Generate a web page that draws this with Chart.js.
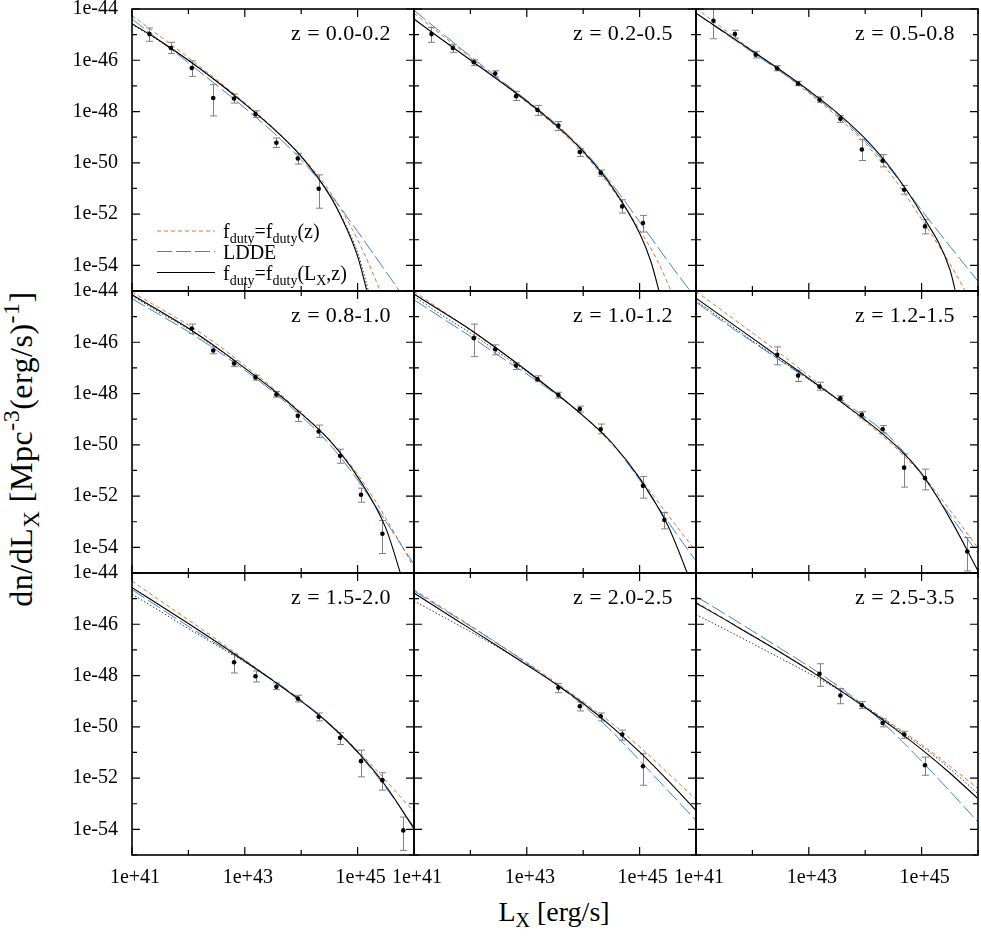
<!DOCTYPE html>
<html>
<head>
<meta charset="utf-8">
<script src="https://cdn.jsdelivr.net/npm/chart.js@4.4.0/dist/chart.umd.min.js"></script>
<style>
  html, body { margin: 0; padding: 0; background: #ffffff; }
  #wrap { position: relative; width: 981px; height: 938px; overflow: hidden; background: #ffffff;
          font-family: "Liberation Serif", "Times New Roman", serif; color: #000; }
  #wrap canvas { position: absolute; }
  .ytitle { position: absolute; left: 21px; top: 449px; transform: translate(-50%, -50%) rotate(-90deg);
            font-size: 32px; letter-spacing: 0.5px; white-space: nowrap; line-height: 1; }
  .xtitle { position: absolute; left: 554px; top: 898px; transform: translateX(-50%);
            font-size: 28px; white-space: nowrap; line-height: 1; }
  .ytitle sub, .xtitle sub { font-size: 0.72em; vertical-align: -0.3em; line-height: 0; }
  .ytitle sup { font-size: 0.75em; vertical-align: 0.55em; line-height: 0; }
</style>
</head>
<body>
<div id="wrap">
  <div class="ytitle">dn/dL<sub>X</sub> [Mpc<sup>-3</sup>(erg/s)<sup>-1</sup>]</div>
  <div class="xtitle">L<sub>X</sub> [erg/s]</div>
</div>
<script>
// ---------------- DATA (log10 values) ----------------
const zBins = ['z = 0.0-0.2', 'z = 0.2-0.5', 'z = 0.5-0.8',
               'z = 0.8-1.0', 'z = 1.0-1.2', 'z = 1.2-1.5',
               'z = 1.5-2.0', 'z = 2.0-2.5', 'z = 2.5-3.5'];
const xTickExp = [41, 42, 43, 44, 45, 46];
const yTickExp = [-55, -54, -53, -52, -51, -50, -49, -48, -47, -46, -45, -44];

// measured points: log10 Lx
const ptLogL = [
  [41.31, 41.69, 42.06, 42.44, 42.81, 43.19, 43.56, 43.94, 44.31],
  [41.31, 41.69, 42.06, 42.44, 42.81, 43.19, 43.56, 43.94, 44.31, 44.69, 45.06],
  [41.31, 41.69, 42.06, 42.44, 42.81, 43.19, 43.56, 43.94, 44.31, 44.69, 45.06],
  [42.06, 42.44, 42.81, 43.19, 43.56, 43.94, 44.31, 44.69, 45.06, 45.44],
  [42.06, 42.44, 42.81, 43.19, 43.56, 43.94, 44.31, 45.06, 45.44],
  [42.44, 42.81, 43.19, 43.56, 43.94, 44.31, 44.69, 45.06, 45.81],
  [42.81, 43.19, 43.56, 43.94, 44.31, 44.69, 45.06, 45.44, 45.81],
  [43.56, 43.94, 44.31, 44.69, 45.06],
  [43.19, 43.56, 43.94, 44.31, 44.69, 45.06]
];
// measured points: log10 dn/dLx
const ptLogPhi = [
  [-44.98, -45.52, -46.30, -47.47, -47.49, -48.10, -49.22, -49.83, -51.01],
  [-44.98, -45.52, -46.08, -46.52, -47.40, -47.94, -48.55, -49.58, -50.39, -51.70, -52.35],
  [-44.46, -44.98, -45.78, -46.32, -46.91, -47.54, -48.28, -49.48, -49.92, -51.05, -52.48],
  [-45.46, -46.32, -46.83, -47.37, -48.04, -48.87, -49.48, -50.43, -51.95, -53.47],
  [-45.84, -46.27, -46.91, -47.44, -48.06, -48.60, -49.39, -51.60, -52.93],
  [-46.49, -47.30, -47.73, -48.19, -48.83, -49.39, -50.89, -51.30, -54.16],
  [-47.48, -48.03, -48.44, -48.90, -49.61, -50.43, -51.34, -52.08, -54.04],
  [-48.47, -49.20, -49.59, -50.30, -51.54],
  [-47.93, -48.78, -49.16, -49.85, -50.30, -51.50]
];
// error bar lower ends (log10)
const ptErrLo = [
  [-45.26, -45.74, -46.63, -48.17, -47.67, -48.23, -49.40, -50.05, -51.77],
  [-45.30, -45.69, -46.21, -46.65, -47.57, -48.15, -48.74, -49.75, -50.52, -51.96, -52.70],
  [-45.16, -45.13, -45.91, -46.41, -46.99, -47.64, -48.42, -49.91, -50.16, -51.22, -52.77],
  [-45.66, -46.45, -46.95, -47.48, -48.14, -49.09, -49.71, -50.72, -52.24, -54.24],
  [-46.56, -46.49, -47.06, -47.54, -48.18, -48.72, -49.57, -52.08, -53.28],
  [-46.88, -47.53, -47.87, -48.27, -48.95, -49.54, -51.65, -51.76, -54.92],
  [-47.90, -48.25, -48.55, -49.03, -49.77, -50.69, -51.95, -52.47, -54.82],
  [-48.67, -49.38, -49.77, -50.52, -52.28],
  [-48.42, -49.10, -49.29, -50.00, -50.45, -51.89]
];
// error bar upper ends (log10)
const ptErrHi = [
  [-44.74, -45.30, -46.02, -46.95, -47.32, -47.97, -49.03, -49.63, -50.47],
  [-44.72, -45.39, -45.98, -46.41, -47.21, -47.76, -48.39, -49.45, -50.28, -51.44, -52.05],
  [-43.90, -44.83, -45.65, -46.21, -46.82, -47.43, -48.16, -49.10, -49.68, -50.88, -52.22],
  [-45.29, -46.18, -46.72, -47.28, -47.92, -48.70, -49.23, -50.17, -51.69, -52.95],
  [-45.29, -46.10, -46.80, -47.31, -47.95, -48.49, -49.19, -51.24, -52.64],
  [-46.18, -47.09, -47.56, -48.09, -48.71, -49.25, -50.35, -50.95, -53.62],
  [-47.17, -47.82, -48.29, -48.77, -49.46, -50.23, -50.91, -51.79, -53.52],
  [-48.31, -49.03, -49.46, -50.13, -51.05],
  [-47.54, -48.51, -49.02, -49.69, -50.17, -51.18]
];

// model curves: [log10 Lx, log10 dn/dLx]
// f_duty = f_duty(Lx, z)  (black solid)
const curveFdutyLz = [
  [[41,-44.57],[41.5,-45.25],[42,-46.00],[42.5,-46.82],[43,-47.70],[43.5,-48.65],[44,-49.75],[44.5,-51.25],[44.75,-52.30],[45,-53.65],[45.2,-55.3]],
  [[41,-44.39],[41.5,-45.20],[42,-45.99],[42.5,-46.78],[43,-47.60],[43.5,-48.50],[44,-49.55],[44.5,-50.90],[45,-52.75],[45.2,-53.85],[45.38,-55.3]],
  [[41,-44.16],[41.5,-44.90],[42,-45.64],[42.5,-46.39],[43,-47.18],[43.5,-48.04],[44,-49.06],[44.5,-50.35],[45,-52.0],[45.5,-54.15],[45.63,-55.3]],
  [[41,-44.15],[41.5,-44.79],[42,-45.45],[42.5,-46.20],[43,-47.01],[43.5,-47.85],[44,-48.78],[44.5,-49.82],[45,-51.25],[45.5,-53.25],[45.8,-55.3]],
  [[41,-44.12],[41.5,-44.81],[42,-45.51],[42.5,-46.29],[43,-47.11],[43.5,-47.96],[44,-48.87],[44.5,-49.90],[45,-51.30],[45.5,-53.15],[45.9,-55.3]],
  [[41,-44.28],[41.5,-45.06],[42,-45.84],[42.5,-46.63],[43,-47.41],[43.5,-48.21],[44,-49.03],[44.5,-49.94],[45,-51.12],[45.5,-52.86],[46,-54.92]],
  [[41,-44.57],[41.5,-45.27],[42,-45.97],[42.5,-46.69],[43,-47.43],[43.5,-48.20],[44,-49.0],[44.5,-49.90],[45,-50.98],[45.5,-52.31],[46,-53.97]],
  [[41,-44.78],[41.5,-45.48],[42,-46.18],[42.5,-46.88],[43,-47.59],[43.5,-48.31],[44,-49.09],[44.5,-49.98],[45,-50.98],[45.5,-52.09],[46,-53.26]],
  [[41,-45.17],[41.5,-45.80],[42,-46.45],[42.5,-47.10],[43,-47.78],[43.5,-48.50],[44,-49.25],[44.5,-50.03],[45,-50.88],[45.5,-51.80],[46,-52.80]]
];
// dotted companion curve (black dotted)
const curveDotted = [
  [[41,-44.6],[41.5,-45.27],[42,-46.01],[42.5,-46.83],[43,-47.71],[43.5,-48.66],[44,-49.76],[44.5,-51.24],[44.75,-52.25],[45,-53.5],[45.23,-55.3]],
  [],
  [],
  [[41,-44.19],[41.5,-44.85],[42,-45.49],[42.5,-46.23],[43,-47.01]],
  [[41,-44.21],[41.5,-44.95],[42,-45.64],[42.5,-46.40],[43,-47.15],[43.5,-47.96]],
  [[41,-44.38],[41.5,-45.16],[42,-45.94],[42.5,-46.70],[43,-47.45],[43.5,-48.21]],
  [[41,-44.83],[41.5,-45.49],[42,-46.17],[42.5,-46.82],[43,-47.47],[43.5,-48.20]],
  [[41,-45.09],[41.5,-45.69],[42,-46.29],[42.5,-46.91],[43,-47.57],[43.5,-48.31]],
  [[41,-45.62],[41.5,-46.18],[42,-46.75],[42.5,-47.33],[43,-47.91],[43.5,-48.52],[44,-49.22],[44.5,-49.98],[45,-50.76],[45.5,-51.63],[46,-52.61]]
];
// LDDE (blue long dash)
const curveLDDE = [
  [[41,-44.39],[41.5,-45.24],[42,-46.10],[42.5,-46.97],[43,-47.86],[43.5,-48.81],[44,-49.88],[44.5,-51.18],[45,-52.68],[45.5,-54.24],[45.9,-55.5]],
  [[41,-44.05],[41.5,-44.95],[42,-45.84],[42.5,-46.71],[43,-47.56],[43.5,-48.45],[44,-49.50],[44.5,-50.80],[45,-52.30],[45.5,-53.83],[46,-55.3]],
  [[41,-44.16],[41.5,-44.93],[42,-45.69],[42.5,-46.45],[43,-47.23],[43.5,-48.11],[44,-49.15],[44.5,-50.40],[45,-51.85],[45.5,-53.25],[46,-54.62]],
  [[41,-44.30],[41.5,-44.94],[42,-45.59],[42.5,-46.31],[43,-47.09],[43.5,-47.93],[44,-48.88],[44.5,-49.97],[45,-51.37],[45.5,-52.99],[46,-54.66]],
  [[41,-44.34],[41.5,-45.06],[42,-45.77],[42.5,-46.52],[43,-47.24],[43.5,-48.0],[44,-48.86],[44.5,-49.92],[45,-51.37],[45.5,-52.99],[46,-54.53]],
  [[41,-44.43],[41.5,-45.23],[42,-45.98],[42.5,-46.72],[43,-47.45],[43.5,-48.18],[44,-48.92],[44.5,-49.83],[45,-51.17],[45.5,-52.73],[46,-54.23]],
  [[41,-44.65],[41.5,-45.37],[42,-46.08],[42.5,-46.77],[43,-47.46],[43.5,-48.17],[44,-48.96],[44.5,-49.87],[45,-51.01],[45.5,-52.37],[46,-53.91]],
  [[41,-44.70],[41.5,-45.39],[42,-46.08],[42.5,-46.78],[43,-47.52],[43.5,-48.31],[44,-49.16],[44.5,-50.16],[45,-51.31],[45.5,-52.48],[46,-53.65]],
  [[41,-44.91],[41.5,-45.58],[42,-46.26],[42.5,-46.95],[43,-47.64],[43.5,-48.38],[44,-49.22],[44.5,-50.23],[45,-51.34],[45.5,-52.51],[46,-53.71]]
];
// f_duty = f_duty(z) (orange short dash)
const curveFdutyZ = [
  [[41,-44.26],[41.5,-45.07],[42,-45.90],[42.5,-46.76],[43,-47.66],[43.5,-48.63],[44,-49.73],[44.5,-51.10],[45,-53.0],[45.4,-55.0],[45.5,-55.6]],
  [[41,-44.16],[41.5,-45.03],[42,-45.90],[42.5,-46.77],[43,-47.64],[43.5,-48.56],[44,-49.62],[44.5,-50.98],[45,-52.62],[45.3,-53.75],[45.6,-55.2],[45.7,-55.7]],
  [[41,-43.97],[41.5,-44.80],[42,-45.62],[42.5,-46.44],[43,-47.28],[43.5,-48.19],[44,-49.24],[44.5,-50.58],[45,-52.20],[45.5,-53.93],[45.9,-55.5]],
  [[41,-44.04],[41.5,-44.68],[42,-45.33],[42.5,-46.07],[43,-46.91],[43.5,-47.79],[44,-48.75],[44.5,-49.81],[45,-51.15],[45.5,-52.86],[46,-54.79]],
  [[41,-44.02],[41.5,-44.77],[42,-45.53],[42.5,-46.31],[43,-47.11],[43.5,-47.97],[44,-48.88],[44.5,-49.95],[45,-51.28],[45.5,-52.73],[46,-54.16]],
  [[41,-44.02],[41.5,-44.82],[42,-45.63],[42.5,-46.45],[43,-47.31],[43.5,-48.21],[44,-49.09],[44.5,-50.03],[45,-51.15],[45.5,-52.54],[46,-54.03]],
  [[41,-44.31],[41.5,-45.08],[42,-45.83],[42.5,-46.60],[43,-47.38],[43.5,-48.18],[44,-49.0],[44.5,-49.87],[45,-50.92],[45.5,-52.09],[46,-53.32]],
  [[41,-44.65],[41.5,-45.35],[42,-46.05],[42.5,-46.77],[43,-47.49],[43.5,-48.25],[44,-49.03],[44.5,-49.85],[45,-50.78],[45.5,-51.80],[46,-52.83]],
  [[41,-45.13],[41.5,-45.78],[42,-46.43],[42.5,-47.09],[43,-47.77],[43.5,-48.47],[44,-49.20],[44.5,-49.93],[45,-50.69],[45.5,-51.53],[46,-52.41]]
];

// ---------------- STYLE / LAYOUT ----------------
const COL_X = [132, 414, 696];
const ROW_Y = [9, 291, 573];
const PW = 282, PH = 282;
const ORANGE = '#d2743a';
const BLUE = '#3a86d8';
const FONT = '"Liberation Serif", "Times New Roman", serif';

const toXY = arr => arr.map(([l, v]) => ({ x: Math.pow(10, l), y: Math.pow(10, v) }));

function drawRich(ctx, x, y, parts, size) {
  let cx = x;
  parts.forEach(([t, sub]) => {
    const fs = sub ? size * 0.7 : size;
    ctx.font = fs + 'px ' + FONT;
    ctx.fillText(t, cx, y + (sub ? size * 0.25 : 0));
    cx += ctx.measureText(t).width;
  });
}

function panelPlugin(p, r, c) {
  return {
    id: 'panel' + p,
    beforeDatasetsDraw(chart) {
      const { ctx, chartArea: a, scales: { x, y } } = chart;
      ctx.save();
      ctx.beginPath();
      ctx.rect(a.left, a.top, a.right - a.left, a.bottom - a.top);
      ctx.clip();
      ctx.strokeStyle = '#808080';
      ctx.lineWidth = 1;
      ptLogL[p].forEach((l, i) => {
        const px = Math.round(x.getPixelForValue(Math.pow(10, l))) + 0.5;
        const y1 = y.getPixelForValue(Math.pow(10, ptErrHi[p][i]));
        const y2 = y.getPixelForValue(Math.pow(10, ptErrLo[p][i]));
        ctx.beginPath();
        ctx.moveTo(px, y1); ctx.lineTo(px, y2);
        ctx.moveTo(px - 3.5, y1); ctx.lineTo(px + 3.5, y1);
        ctx.moveTo(px - 3.5, y2); ctx.lineTo(px + 3.5, y2);
        ctx.stroke();
      });
      ctx.restore();
    },
    afterDraw(chart) {
      const { ctx, chartArea: a, scales: { x, y } } = chart;
      ctx.save();
      // inward ticks on all four sides
      ctx.strokeStyle = '#000';
      ctx.lineWidth = 1.2;
      xTickExp.forEach(e => {
        const px = x.getPixelForValue(Math.pow(10, e));
        const len = (e % 2 !== 0) ? 8 : 5;
        ctx.beginPath();
        ctx.moveTo(px, a.bottom); ctx.lineTo(px, a.bottom - len);
        ctx.moveTo(px, a.top); ctx.lineTo(px, a.top + len);
        ctx.stroke();
      });
      yTickExp.forEach(e => {
        const py = y.getPixelForValue(Math.pow(10, e));
        const len = (e % 2 === 0) ? 8 : 5;
        ctx.beginPath();
        ctx.moveTo(a.left, py); ctx.lineTo(a.left + len, py);
        ctx.moveTo(a.right, py); ctx.lineTo(a.right - len, py);
        ctx.stroke();
      });
      // frame
      ctx.lineWidth = 1.6;
      ctx.strokeRect(a.left, a.top, a.right - a.left, a.bottom - a.top);
      // redshift label
      ctx.fillStyle = '#000';
      ctx.font = '22px ' + FONT;
      if ('letterSpacing' in ctx) ctx.letterSpacing = '0.4px';
      ctx.textAlign = 'right';
      ctx.textBaseline = 'alphabetic';
      ctx.fillText(zBins[p], a.right - 23, a.top + 31);
      if ('letterSpacing' in ctx) ctx.letterSpacing = '0px';
      // legend in first panel
      if (p === 0) {
        ctx.textAlign = 'left';
        const rows = [
          { dy: 222, color: ORANGE, dash: [4, 3], parts: [['f', 0], ['duty', 1], ['=f', 0], ['duty', 1], ['(z)', 0]] },
          { dy: 242.5, color: BLUE, dash: [15, 4], parts: [['LDDE', 0]] },
          { dy: 263.5, color: '#000', dash: [], parts: [['f', 0], ['duty', 1], ['=f', 0], ['duty', 1], ['(L', 0], ['X', 1], [',z)', 0]] }
        ];
        rows.forEach(rw => {
          const yy = a.top + rw.dy;
          ctx.strokeStyle = rw.color;
          ctx.lineWidth = 1;
          ctx.setLineDash(rw.dash);
          ctx.beginPath();
          ctx.moveTo(a.left + 25, yy); ctx.lineTo(a.left + 83, yy);
          ctx.stroke();
          ctx.setLineDash([]);
          ctx.fillStyle = '#000';
          drawRich(ctx, a.left + 91, yy + 7, rw.parts, 20);
        });
      }
      ctx.restore();
    }
  };
}

const wrap = document.getElementById('wrap');
for (let p = 0; p < 9; p++) {
  const r = Math.floor(p / 3), c = p % 3;
  const L = c === 0 ? 132 : 40;
  const R = 20, T = 14;
  const B = r === 2 ? 50 : 14;
  const cv = document.createElement('canvas');
  const w = L + PW + R, h = T + PH + B;
  cv.width = w; cv.height = h;
  cv.style.width = w + 'px'; cv.style.height = h + 'px';
  cv.style.left = (COL_X[c] - L) + 'px';
  cv.style.top = (ROW_Y[r] - T) + 'px';
  wrap.appendChild(cv);

  const datasets = [
    { label: 'data', data: toXY(ptLogL[p].map((l, i) => [l, ptLogPhi[p][i]])), showLine: false,
      pointRadius: 2.3, pointBackgroundColor: '#000', pointBorderWidth: 0, pointStyle: 'circle' },
    { label: 'fduty(Lx,z)', data: toXY(curveFdutyLz[p]), showLine: true, borderColor: '#000',
      borderWidth: 1.1, pointRadius: 0, cubicInterpolationMode: 'monotone' },
    { label: 'dotted', data: toXY(curveDotted[p]), showLine: true, borderColor: '#333',
      borderWidth: 1, borderDash: [1.5, 2], pointRadius: 0, cubicInterpolationMode: 'monotone' },
    { label: 'LDDE', data: toXY(curveLDDE[p]), showLine: true, borderColor: BLUE,
      borderWidth: 1, borderDash: [15, 4], pointRadius: 0, cubicInterpolationMode: 'monotone' },
    { label: 'fduty(z)', data: toXY(curveFdutyZ[p]), showLine: true, borderColor: ORANGE,
      borderWidth: 1, borderDash: [4, 3], pointRadius: 0, cubicInterpolationMode: 'monotone' }
  ];

  new Chart(cv, {
    type: 'scatter',
    data: { datasets },
    options: {
      responsive: false,
      animation: false,
      devicePixelRatio: 1,
      events: [],
      layout: { padding: { left: 0, right: R, top: T, bottom: 0 } },
      plugins: { legend: { display: false }, tooltip: { enabled: false } },
      scales: {
        x: {
          type: 'logarithmic', position: 'bottom', min: 1e41, max: 1e46,
          grid: { display: false, drawTicks: false }, border: { display: false },
          afterBuildTicks: s => { s.ticks = xTickExp.map(e => ({ value: Math.pow(10, e) })); },
          afterFit: s => { s.height = B; s.paddingLeft = 0; s.paddingRight = 0; },
          ticks: {
            display: r === 2, autoSkip: false, maxRotation: 0, minRotation: 0,
            padding: 11, labelOffset: 3, color: '#000',
            font: { family: FONT, size: 20 },
            callback: v => { const e = Math.round(Math.log10(v)); return (e % 2 !== 0 && e < 46) ? '1e+' + e : ''; }
          }
        },
        y: {
          type: 'logarithmic', position: 'left', min: 1e-55, max: 1e-44,
          grid: { display: false, drawTicks: false }, border: { display: false },
          afterBuildTicks: s => { s.ticks = yTickExp.map(e => ({ value: Math.pow(10, e) })); },
          afterFit: s => { s.width = L; s.paddingTop = 0; s.paddingBottom = 0; },
          ticks: {
            display: c === 0, autoSkip: false, padding: 14, color: '#000',
            font: { family: FONT, size: 20 },
            callback: v => { const e = Math.round(Math.log10(v)); return (e % 2 === 0) ? '1e' + e : ''; }
          }
        }
      }
    },
    plugins: [panelPlugin(p, r, c)]
  });
}
</script>
</body>
</html>
